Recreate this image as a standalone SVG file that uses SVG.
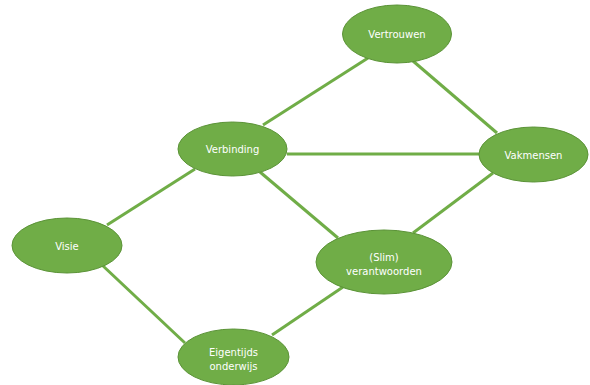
<svg xmlns="http://www.w3.org/2000/svg" width="590" height="385" viewBox="0 0 590 385">
<style>
.edge{stroke:#70AD47;stroke-width:3;fill:none}
.node{fill:#70AD47;stroke:#5B9337;stroke-width:1}
.lbl{font-family:"DejaVu Sans",Verdana,sans-serif;font-size:10px;fill:#FFFFFF;text-anchor:middle}
</style>
<rect width="590" height="385" fill="#FFFFFF"/>
<g id="connectors">
<line class="edge" x1="368" y1="58" x2="263" y2="125"/>
<line class="edge" x1="413" y1="61" x2="497" y2="133"/>
<line class="edge" x1="287" y1="154" x2="479" y2="154"/>
<line class="edge" x1="493" y1="173" x2="413" y2="233"/>
<line class="edge" x1="260" y1="172" x2="338" y2="238"/>
<line class="edge" x1="107" y1="225" x2="195" y2="169"/>
<line class="edge" x1="102" y1="265" x2="185" y2="343"/>
<line class="edge" x1="272" y1="335" x2="343" y2="287"/>
</g>
<g id="vertrouwen">
<ellipse class="node" cx="397" cy="34" rx="54.5" ry="29"/>
<text class="lbl" x="397" y="38">Vertrouwen</text>
</g>
<g id="vakmensen">
<ellipse class="node" cx="533.5" cy="154.5" rx="54.5" ry="27.5"/>
<text class="lbl" x="533.5" y="158.5">Vakmensen</text>
</g>
<g id="verbinding">
<ellipse class="node" cx="232.5" cy="149" rx="54.5" ry="27"/>
<text class="lbl" x="232.5" y="153">Verbinding</text>
</g>
<g id="visie">
<ellipse class="node" cx="67" cy="245.5" rx="55" ry="27.5"/>
<text class="lbl" x="67" y="249.5">Visie</text>
</g>
<g id="slim-verantwoorden">
<ellipse class="node" cx="384" cy="262" rx="68" ry="32"/>
<text class="lbl" x="384" y="261">(Slim)</text>
<text class="lbl" x="384" y="275">verantwoorden</text>
</g>
<g id="eigentijds-onderwijs">
<ellipse class="node" cx="233.5" cy="357" rx="55.5" ry="28"/>
<text class="lbl" x="233.5" y="356">Eigentijds</text>
<text class="lbl" x="233.5" y="370">onderwijs</text>
</g>
</svg>
